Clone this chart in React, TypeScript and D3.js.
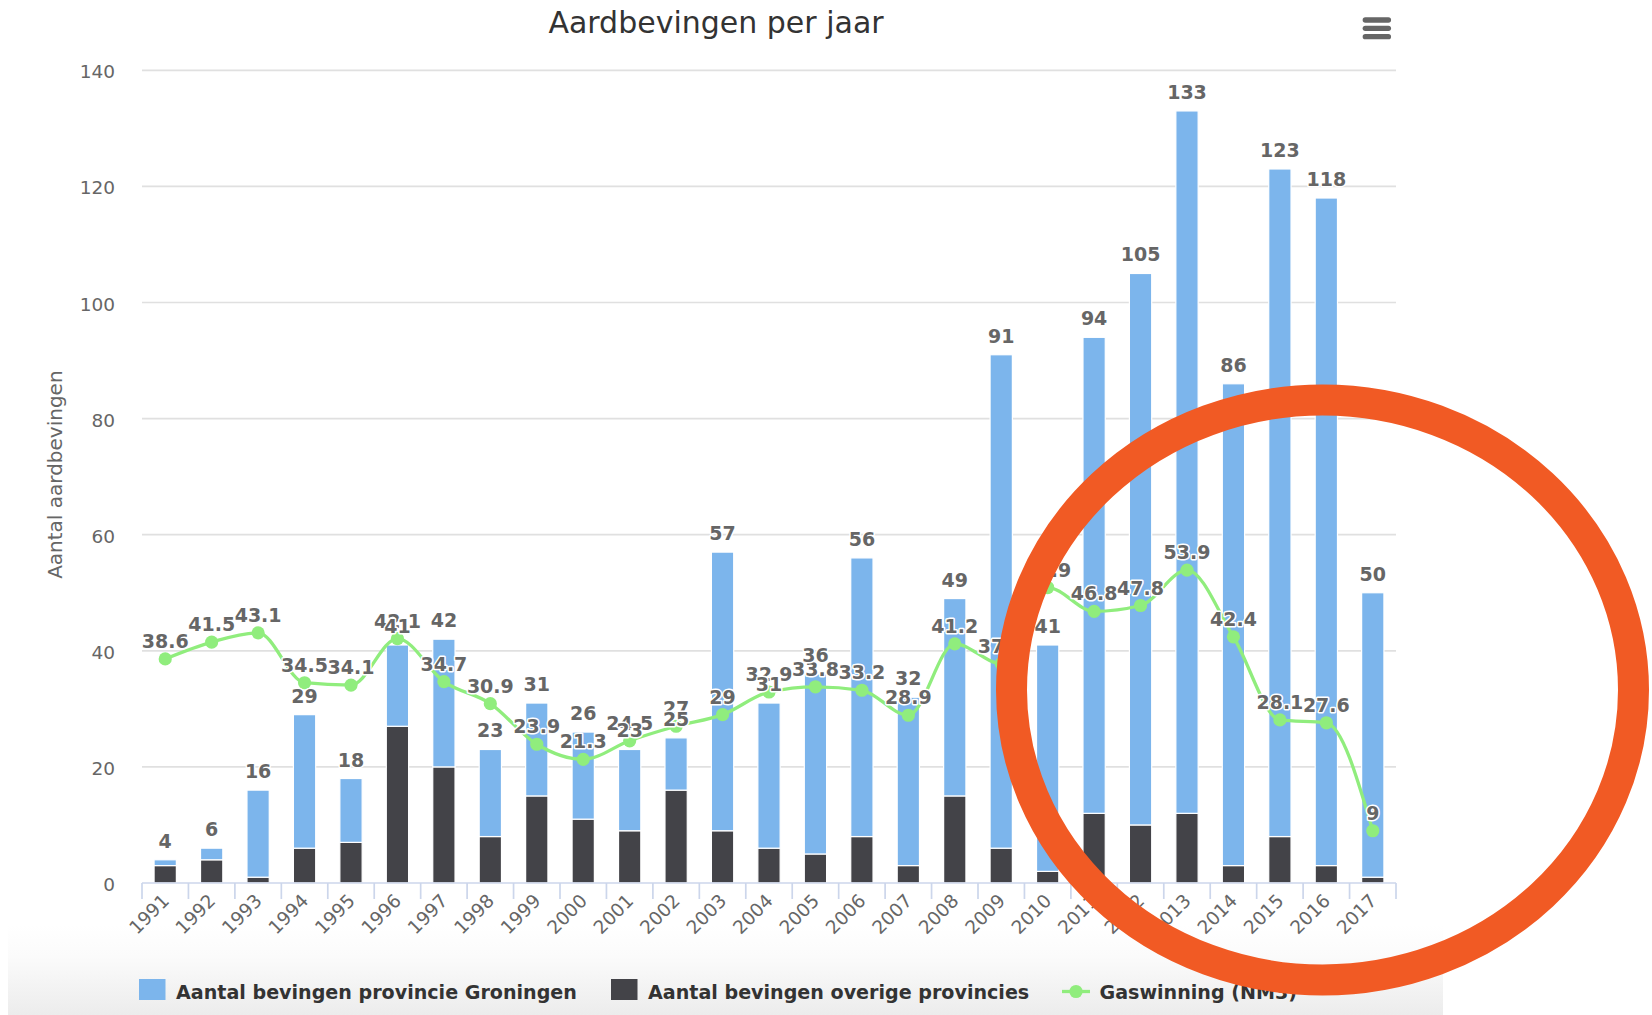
import React from 'react';
import * as d3 from 'd3';

// Jaren, aantallen bevingen (Groningen / overige provincies) en gaswinning
const years = ['1991', '1992', '1993', '1994', '1995', '1996', '1997', '1998', '1999', '2000', '2001', '2002', '2003', '2004', '2005', '2006', '2007', '2008', '2009', '2010', '2011', '2012', '2013', '2014', '2015', '2016', '2017'];
const groningen = [1, 2, 15, 23, 11, 14, 22, 15, 16, 15, 14, 9, 48, 25, 31, 48, 29, 34, 85, 39, 82, 95, 121, 83, 115, 115, 49];
const overige = [3, 4, 1, 6, 7, 27, 20, 8, 15, 11, 9, 16, 9, 6, 5, 8, 3, 15, 6, 2, 12, 10, 12, 3, 8, 3, 1];
const gaswinning = [38.6, 41.5, 43.1, 34.5, 34.1, 42.1, 34.7, 30.9, 23.9, 21.3, 24.5, 27, 29, 32.9, 33.8, 33.2, 28.9, 41.2, 37.8, 50.9, 46.8, 47.8, 53.9, 42.4, 28.1, 27.6, 9];
const yTicks = [0, 20, 40, 60, 80, 100, 120, 140];

const legendItems = [
  { name: 'Aantal bevingen provincie Groningen', color: '#7cb5ec', type: 'column' },
  { name: 'Aantal bevingen overige provincies', color: '#434348', type: 'column' },
  { name: 'Gaswinning (NM3)', color: '#90ed7d', type: 'line' },
];

const FONT = '"DejaVu Sans", "Lucida Grande", Arial, sans-serif';

const App = () => {
  const width = 1652;
  const height = 1015;
  const plot = { left: 142, right: 1396, top: 70.3, bottom: 883 };

  const x = d3.scaleBand().domain(years).range([plot.left, plot.right]);
  const y = d3.scaleLinear().domain([0, 140]).range([plot.bottom, plot.top]);
  const barW = x.bandwidth() * 0.6 * 0.8;
  const cx = (yr: string) => (x(yr) as number) + x.bandwidth() / 2;

  // stack: overige onderaan, Groningen erboven
  const rows = years.map((yr, i) => ({ yr, groningen: groningen[i], overige: overige[i] }));
  const stack = d3.stack<any>().keys(['overige', 'groningen'])(rows);
  const colors: Record<string, string> = { groningen: '#7cb5ec', overige: '#434348' };

  const gasPoints: [number, number][] = years.map((yr, i) => [cx(yr), y(gaswinning[i])]);
  const line = d3.line().curve(d3.curveMonotoneX)(gasPoints) || '';

  const labelStyle = {
    fontFamily: FONT,
    fontWeight: 'bold' as const,
    fontSize: 19,
    fill: '#666',
    stroke: '#fff',
    strokeWidth: 3,
    paintOrder: 'stroke' as const,
    strokeLinejoin: 'round' as const,
  };

  const legendX = [139, 611, 1062];

  return (
    <svg width={width} height={height} style={{ position: 'fixed', left: 0, top: 0, background: '#fff' }}>
      <defs>
        <linearGradient id="legendBg" x1="0" y1="0" x2="0" y2="1">
          <stop offset="0" stopColor="#ffffff" />
          <stop offset="0.35" stopColor="#fbfbfb" />
          <stop offset="1" stopColor="#ececec" />
        </linearGradient>
      </defs>
      <rect x={8} y={925} width={1435} height={90} fill="url(#legendBg)" />

      {/* titel */}
      <text x={716} y={33} textAnchor="middle" fontFamily={FONT} fontSize={30} fill="#333">
        Aardbevingen per jaar
      </text>

      {/* menu knop */}
      {[20, 28.3, 36.7].map((yy) => (
        <line key={yy} x1={1365.3} x2={1388.4} y1={yy} y2={yy} stroke="#666" strokeWidth={5.3} strokeLinecap="round" />
      ))}

      {/* grid */}
      {yTicks.filter((t) => t > 0).map((t) => (
        <line key={t} x1={plot.left} x2={plot.right} y1={y(t)} y2={y(t)} stroke="#e0e0e0" strokeWidth={1.7} />
      ))}
      {yTicks.map((t) => (
        <text key={t} x={115} y={y(t) + 8} textAnchor="end" fontFamily={FONT} fontSize={18.5} fill="#666">
          {t}
        </text>
      ))}
      <text
        transform={`translate(62,${(plot.top + plot.bottom) / 2 - 2}) rotate(-90)`}
        textAnchor="middle"
        fontFamily={FONT}
        fontSize={20}
        fill="#666"
      >
        Aantal aardbevingen
      </text>

      {/* kolommen */}
      {stack.map((s) => (
        <g key={s.key}>
          {s.map((d, i) => (
            <rect
              key={years[i]}
              x={cx(years[i]) - barW / 2}
              y={y(d[1])}
              width={barW}
              height={Math.max(0, y(d[0]) - y(d[1]))}
              fill={colors[s.key]}
              stroke="#fff"
              strokeWidth={1.2}
            />
          ))}
        </g>
      ))}

      {/* x-as */}
      <line x1={plot.left} x2={plot.right} y1={plot.bottom} y2={plot.bottom} stroke="#ccd6eb" strokeWidth={1.7} />
      {years.map((yr) => (
        <line key={yr} x1={x(yr)} x2={x(yr)} y1={plot.bottom} y2={plot.bottom + 16} stroke="#ccd6eb" strokeWidth={1.7} />
      ))}
      <line x1={plot.right} x2={plot.right} y1={plot.bottom} y2={plot.bottom + 16} stroke="#ccd6eb" strokeWidth={1.7} />
      {years.map((yr) => (
        <text
          key={yr}
          transform={`translate(${cx(yr) + 5},${plot.bottom + 19}) rotate(-45)`}
          textAnchor="end"
          fontFamily={FONT}
          fontSize={18.5}
          fill="#666"
        >
          {yr}
        </text>
      ))}

      {/* gaswinning */}
      <path d={line} fill="none" stroke="#90ed7d" strokeWidth={3.3} />
      {gasPoints.map(([px, py], i) => (
        <circle key={i} cx={px} cy={py} r={6.6} fill="#90ed7d" />
      ))}
      {gasPoints.map(([px, py], i) => (
        <text key={i} x={px} y={py - 11} textAnchor="middle" style={labelStyle}>
          {gaswinning[i]}
        </text>
      ))}

      {/* stapel totalen */}
      {years.map((yr, i) => (
        <text key={yr} x={cx(yr)} y={y(groningen[i] + overige[i]) - 12} textAnchor="middle" style={labelStyle}>
          {groningen[i] + overige[i]}
        </text>
      ))}

      {/* legenda */}
      {legendItems.map((item, i) => (
        <g key={item.name} transform={`translate(${legendX[i]},0)`}>
          {item.type === 'column' ? (
            <rect x={0} y={979} width={26.5} height={21} fill={item.color} />
          ) : (
            <g>
              <line x1={0} x2={28} y1={991.5} y2={991.5} stroke={item.color} strokeWidth={3.3} />
              <circle cx={14} cy={991.5} r={6.6} fill={item.color} />
            </g>
          )}
          <text x={item.type === 'column' ? 37 : 37.5} y={999} fontFamily={FONT} fontWeight="bold" fontSize={19.1} fill="#333">
            {item.name}
          </text>
        </g>
      ))}

      {/* oranje cirkel */}
      <ellipse cx={1322.5} cy={690} rx={311} ry={290} fill="none" stroke="#f15a24" strokeWidth={31} />
    </svg>
  );
};

export default App;
